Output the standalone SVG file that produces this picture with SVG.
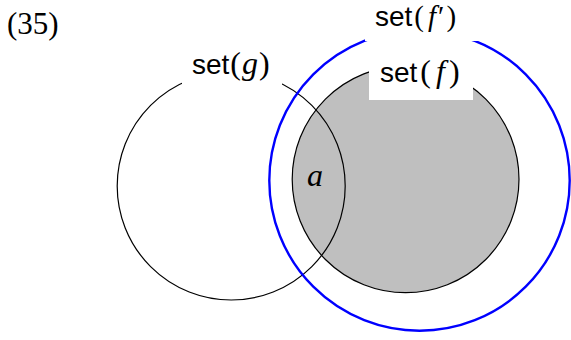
<svg xmlns="http://www.w3.org/2000/svg" width="571" height="340" viewBox="0 0 571 340">
<style>
.sf{font-family:"Liberation Sans",Arial,sans-serif;font-size:28px;fill:#000}
.rm{font-family:"Liberation Serif","Times New Roman",serif;font-size:32px;font-style:normal}
.it{font-family:"Liberation Serif","Times New Roman",serif;font-size:32px;font-style:italic}
.lbl{fill:#fff;stroke:none}
</style>
<rect width="571" height="340" fill="#fff"/>
<g id="num"><text class="rm" x="7" y="34" style="font-size:31px">(35)</text></g>
<g id="setf">
<circle cx="405.6" cy="179.3" r="113.4" fill="#bfbfbf" stroke="#000" stroke-width="1.2"/>
</g>
<g id="setg">
<circle cx="231.2" cy="186" r="114" fill="none" stroke="#000" stroke-width="1.2"/>
<rect class="lbl" x="182" y="50" width="100" height="35"/>
<text class="sf" x="192" y="73.5">set<tspan class="rm" dx="1">(</tspan><tspan class="it" dx="1">g</tspan><tspan class="rm" dx="1">)</tspan></text>
</g>
<g id="setfprime">
<circle cx="419.5" cy="180.5" r="150.2" fill="none" stroke="#0000ff" stroke-width="2.4"/>
<rect class="lbl" x="365" y="0" width="113" height="41"/>
<text class="sf" x="375" y="26">set<tspan class="rm" dx="2" style="font-size:29px">(</tspan><tspan class="it" dx="4" style="font-size:29px">f</tspan><tspan class="rm" dx="2" style="font-size:29px">′</tspan><tspan class="rm" dx="2" style="font-size:29px">)</tspan></text>
</g>
<g id="setflabel">
<rect class="lbl" x="369" y="50" width="104" height="50"/>
<text class="sf" x="380" y="82">set<tspan class="rm" dx="3">(</tspan><tspan class="it" dx="5">f</tspan><tspan class="rm" dx="4">)</tspan></text>
</g>
<g id="a"><text class="it" x="307" y="186">a</text></g>
</svg>
